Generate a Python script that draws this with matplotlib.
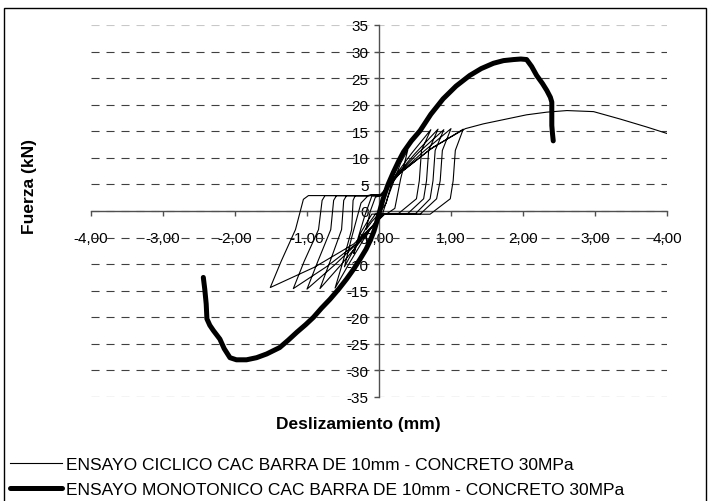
import matplotlib
matplotlib.use("Agg")
import matplotlib.pyplot as plt
from matplotlib.patches import Rectangle
from matplotlib.ticker import FuncFormatter

plt.rcParams['font.family'] = ['Liberation Sans', 'DejaVu Sans']
plt.rcParams['lines.scale_dashes'] = False

# ensayo ciclico: deslizamiento (mm) / fuerza (kN), vertices de los lazos
ciclico_x = [0.00, 0.06, 0.10, 0.04, -0.05, -0.12, -0.18, -0.10, 0.00, 0.10,
             0.18, 0.22, 0.12, 0.02, -0.10, -0.20, -0.30, -0.35, -0.25, -0.10,
             0.05, 0.12, 0.30, 0.40, 0.30, 0.22, 0.10, -0.05, -0.15, -0.40,
             -0.48, -0.38, -0.25, -0.15, 0.02,
             # lazo 1
             0.05, 0.20, 0.45, 0.72, 0.59, 0.56, 0.52, 0.26, 0.05,
             -0.05, -0.22, -0.42, -0.61, -0.50, -0.38, -0.36, -0.33, -0.12, 0.02,
             # lazo 2
             0.05, 0.22, 0.50, 0.82, 0.69, 0.66, 0.62, 0.39, 0.06,
             -0.05, -0.25, -0.52, -0.82, -0.68, -0.52, -0.49, -0.45, -0.14, 0.02,
             # lazo 3
             0.05, 0.24, 0.55, 0.90, 0.78, 0.75, 0.71, 0.50, 0.06,
             -0.05, -0.28, -0.62, -1.00, -0.85, -0.67, -0.63, -0.59, -0.15, 0.02,
             # lazo 4
             0.05, 0.26, 0.62, 1.00, 0.88, 0.85, 0.80, 0.57, 0.07,
             -0.05, -0.30, -0.72, -1.19, -1.04, -0.84, -0.79, -0.75, -0.16, 0.02,
             # lazo 5
             0.05, 0.28, 0.70, 1.17, 1.06, 1.03, 0.99, 0.71, 0.08,
             -0.06, -0.35, -0.90, -1.51, -1.36, -1.16, -1.05, -0.98, -0.17, 0.02,
             # carga final
             0.30, 0.75, 1.20, 1.45, 1.77, 2.05, 2.33, 2.61, 2.98, 3.35, 3.72, 4.02]
ciclico_y = [0.0, 2.5, 4.5, 3.0, 2.6, 0.0, -3.5, -2.0, -0.5, 1.5,
             5.5, 8.0, 4.0, 2.8, 2.8, -1.0, -5.5, -8.0, -4.0, -0.6,
             -0.5, 2.5, 9.0, 11.5, 6.0, 0.5, -0.6, -0.6, -2.5, -8.5,
             -10.5, -5.0, 1.5, 2.9, 3.0,
             3.0, 6.2, 10.8, 15.3, 11.4, 5.7, 2.3, -0.6, -0.6,
             -2.0, -5.5, -10.0, -14.5, -9.5, -3.5, 2.0, 2.9, 2.9, 3.1,
             3.0, 6.4, 10.8, 15.4, 11.4, 5.7, 2.3, -0.6, -0.6,
             -2.2, -5.6, -10.0, -14.6, -9.5, -3.5, 2.0, 2.9, 2.9, 3.1,
             3.0, 6.6, 11.0, 15.3, 11.4, 5.7, 2.3, -0.6, -0.6,
             -2.2, -5.8, -10.2, -14.7, -9.5, -3.5, 2.0, 2.9, 2.9, 3.1,
             3.0, 6.8, 11.2, 15.5, 11.4, 5.7, 2.3, -0.6, -0.6,
             -2.3, -6.0, -10.4, -14.6, -9.5, -3.5, 2.0, 2.9, 2.9, 3.1,
             3.0, 7.0, 11.5, 15.4, 11.4, 5.7, 2.3, -0.6, -0.6,
             -2.4, -6.2, -10.6, -14.4, -9.5, -3.5, 2.2, 2.9, 2.9, 3.1,
             7.2, 12.0, 15.5, 16.4, 17.3, 18.1, 18.6, 18.9, 18.7, 17.3, 15.8, 14.5]

# ensayo monotonico
monotonico_x = [-2.44, -2.43, -2.42, -2.40, -2.39, -2.35, -2.30, -2.21, -2.15,
                -2.07, -1.98, -1.84, -1.70, -1.56, -1.38, -1.26, -1.14, -1.02,
                -0.91, -0.80, -0.68, -0.56, -0.45, -0.35, -0.26, -0.18, -0.12,
                -0.07, -0.03, 0.01, 0.06, 0.12, 0.20, 0.27, 0.34, 0.45, 0.57,
                0.72, 0.89, 1.07, 1.26, 1.42, 1.59, 1.73, 1.87, 1.97, 2.05,
                2.12, 2.19, 2.27, 2.33, 2.38, 2.40, 2.40, 2.40, 2.41, 2.42]
monotonico_y = [-12.5, -13.6, -14.7, -17.5, -20.3, -21.5, -22.5, -24.1, -25.9,
                -27.6, -28.0, -28.0, -27.6, -26.9, -25.7, -24.3, -22.8, -21.4,
                -20.0, -18.3, -16.6, -14.7, -12.8, -10.9, -9.0, -7.2, -5.5,
                -3.8, -2.0, 0.0, 2.4, 4.8, 7.3, 9.3, 11.1, 13.2, 15.1,
                18.2, 21.1, 23.5, 25.5, 26.8, 27.8, 28.3, 28.5, 28.6, 28.5,
                27.2, 25.5, 24.0, 22.7, 21.4, 20.5, 18.0, 16.1, 14.5, 13.2]

x_ticks = [-4, -3, -2, -1, 0, 1, 2, 3, 4]
y_ticks = list(range(-35, 40, 5))

etiqueta_ciclico = "ENSAYO CICLICO CAC BARRA DE 10mm - CONCRETO 30MPa"
etiqueta_monotonico = "ENSAYO MONOTONICO CAC BARRA DE 10mm - CONCRETO 30MPa"

W, H = 709, 502
fig = plt.figure(figsize=(W / 100, H / 100), dpi=100)
ax = fig.add_axes([91 / W, 1 - 398 / H, 576 / W, 372 / H])

l1, = ax.plot(ciclico_x, ciclico_y, color='black', lw=0.8, zorder=3,
              label=etiqueta_ciclico)
l2, = ax.plot(monotonico_x, monotonico_y, color='black', lw=3.6, zorder=4,
              solid_capstyle='round', solid_joinstyle='round',
              label=etiqueta_monotonico)

ax.set_xlim(-4, 4)
ax.set_ylim(-35, 35)
ax.set_xticks(x_ticks)
ax.set_yticks(y_ticks)
ax.xaxis.set_major_formatter(FuncFormatter(lambda v, p: f"{v:.2f}".replace('.', ',')))
ax.yaxis.set_major_formatter(FuncFormatter(lambda v, p: f"{v:.0f}"))

# ejes cruzando en el origen
for s in ['top', 'right']:
    ax.spines[s].set_visible(False)
for s in ['left', 'bottom']:
    ax.spines[s].set_position(('data', 0))
    ax.spines[s].set_color('#505050')
    ax.spines[s].set_linewidth(1.0)
    ax.spines[s].set_zorder(2)

ax.tick_params(axis='both', direction='out', length=3.6, width=1.0,
               color='#505050', labelsize=11, labelcolor='black')
ax.tick_params(axis='x', pad=11)
ax.tick_params(axis='y', pad=4)

ax.grid(axis='y', color='#404040', lw=0.8, linestyle=(0, (5.8, 5.0)), zorder=1)
ax.get_ygridlines()[-1].set_color('#c8c8c8')
ax.set_axisbelow(True)

fig.text(30 / W, 1 - 187 / H, "Fuerza (kN)", rotation=90, ha='center',
         va='center', fontsize=12.5, fontweight='bold')
fig.text(358 / W, 1 - 424 / H, "Deslizamiento (mm)", ha='center',
         va='center', fontsize=12.5, fontweight='bold')

fig.legend(handles=[l1, l2], loc='center left',
           bbox_to_anchor=(10 / W, 1 - 478 / H), frameon=False, fontsize=12.5,
           handlelength=3.0, handletextpad=0.25, labelspacing=0.55,
           borderpad=0, borderaxespad=0)

# marco exterior
fig.patches.append(Rectangle((4 / W, -0.02), 702 / W, 1.02 - 9 / H,
                             transform=fig.transFigure, fill=False,
                             lw=1.0, ec='black'))

fig.savefig("out.png", dpi=100)
